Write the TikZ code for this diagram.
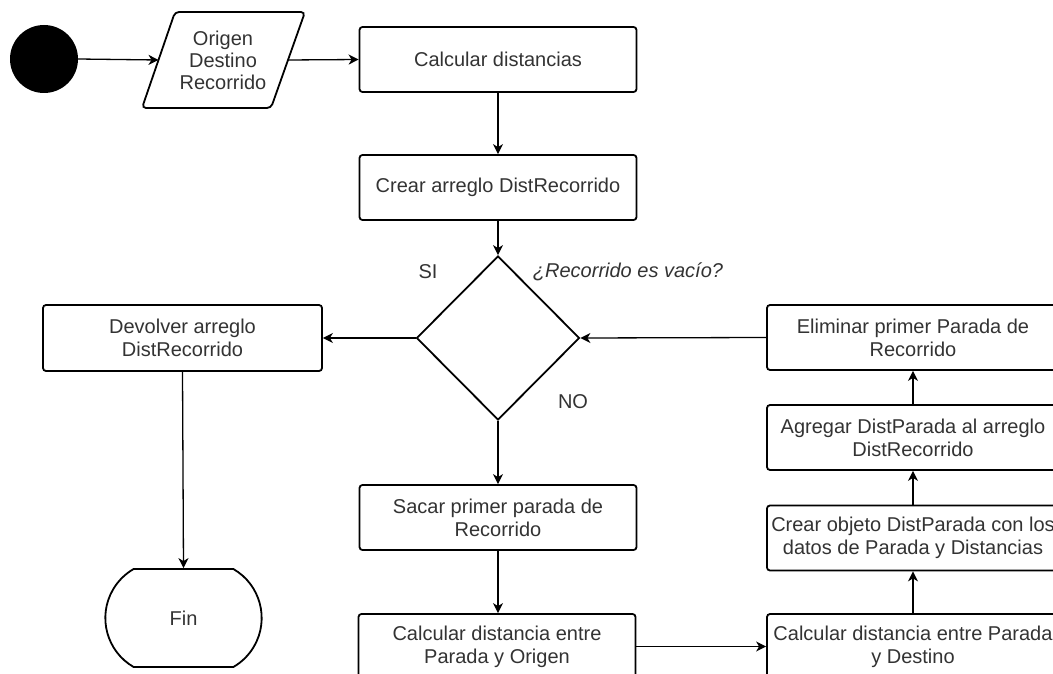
\documentclass[tikz,border=0pt]{standalone}
\usepackage{fontspec}
\setmainfont{Liberation Sans}
\usepackage{tikz}
\usetikzlibrary{arrows.meta,shapes.geometric,shapes.misc}
\definecolor{inkgray}{HTML}{333333}

\begin{document}
\begin{tikzpicture}[x=1pt,y=-1pt,
  stepbox/.style={rectangle,rounded corners=3pt,draw=black,line width=1.8pt,fill=white,minimum width=277pt,minimum height=65pt,align=center,text=inkgray,font=\fontsize{20}{23}\selectfont,inner sep=2pt},
  flow/.style={-{Stealth[length=10pt,width=10pt,inset=3pt]},line width=1.3pt},
  lbl/.style={text=inkgray,font=\fontsize{20}{23}\selectfont,inner sep=0pt}]
\useasboundingbox (0,0) rectangle (1053,674);
\clip (0,0) rectangle (1053,674);
\node[circle,fill=black,minimum size=68pt,inner sep=0pt] (inicio) at (44,59) {};
\draw[line width=1.8pt,rounded corners=4pt] (175,12) -- (305,12) -- (271,108) -- (142,108) -- cycle;
\node[lbl,align=center,font=\fontsize{20}{22}\selectfont] (datos) at (223,60) {Origen\\Destino\\Recorrido};
\coordinate (datosizq) at (158.5,60);
\coordinate (datosder) at (288,60);
\node[stepbox] (calc) at (498,59.5) {Calcular distancias};
\node[stepbox] (arreglo) at (498,187.5) {Crear arreglo DistRecorrido};
\node[diamond,draw=black,line width=1.8pt,minimum width=163pt,minimum height=164pt,inner sep=0pt] (vacio) at (498,338) {};
\node[lbl] (si) at (428,272) {SI};
\node[lbl,font=\fontsize{20}{23}\selectfont\itshape] (pregunta) at (628,272) {¿Recorrido es vacío?};
\node[lbl] (no) at (573,402) {NO};
\node[stepbox,minimum width=279pt,minimum height=66pt] (devolver) at (182.5,338) {Devolver arreglo\\DistRecorrido};
\node[rounded rectangle,rounded rectangle arc length=120,draw=black,line width=1.8pt,minimum width=163pt,minimum height=98pt,text=inkgray,font=\fontsize{20}{23}\selectfont] (fin) at (183.5,618) {Fin};
\node[stepbox] (sacar) at (498,517.5) {Sacar primer parada de\\Recorrido};
\node[stepbox] (origen) at (497,646.5) {Calcular distancia entre\\Parada y Origen};
\node[stepbox,minimum width=292pt] (eliminar) at (913,337.5) {Eliminar primer Parada de\\Recorrido};
\node[stepbox,minimum width=292pt] (agregar) at (913,437.5) {Agregar DistParada al arreglo\\DistRecorrido};
\node[stepbox,minimum width=292pt] (objeto) at (913,538) {Crear objeto DistParada con los\\datos de Parada y Distancias};
\node[stepbox,minimum width=292pt] (destino) at (913,646.5) {Calcular distancia entre Parada\\y Destino};
\draw[flow] (inicio.east) -- (datosizq);
\draw[flow] (datosder) -- (calc.west);
\draw[flow] (calc.south) -- (arreglo.north);
\draw[flow] (arreglo.south) -- (vacio.north);
\draw[flow] (vacio.west) -- (devolver.east);
\draw[flow] (devolver.south) -- (fin.north);
\draw[flow] (vacio.south) -- (sacar.north);
\draw[flow] (sacar.south) -- (sacar.south |- origen.north);
\draw[flow] (origen.east) -- (destino.west);
\draw[flow] (destino.north) -- (objeto.south);
\draw[flow] (objeto.north) -- (agregar.south);
\draw[flow] (agregar.north) -- (eliminar.south);
\draw[flow] (eliminar.west) -- (vacio.east);
\end{tikzpicture}
\end{document}
